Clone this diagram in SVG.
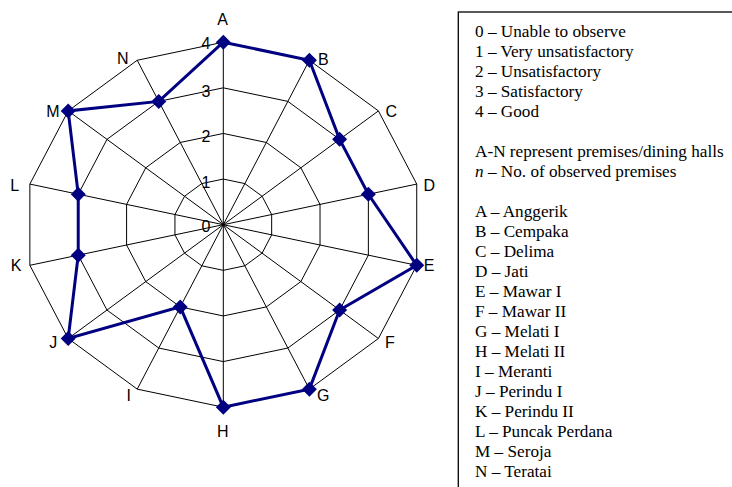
<svg xmlns="http://www.w3.org/2000/svg" width="732" height="487" viewBox="0 0 732 487">
<style>
.grid{fill:none;stroke:#000;stroke-width:1}
.spoke{stroke:#000;stroke-width:1}
.series{fill:none;stroke:#000080;stroke-width:3;stroke-linejoin:miter}
.mk{fill:#000080}
.ax{font-family:"Liberation Sans",Arial,sans-serif;font-size:16px;fill:#000;text-anchor:middle}
.sc{font-family:"Liberation Sans",Arial,sans-serif;font-size:16px;fill:#000;text-anchor:end}
.lg{font-family:"Liberation Serif","Times New Roman",serif;font-size:17.2px;fill:#000}
.box{fill:#fff;stroke:#000;stroke-width:1.3}
</style>
<defs>
<polygon id="dm" points="0,-7.5 7.5,0 0,7.5 -7.5,0"/>
</defs>
<rect width="732" height="487" fill="#fff"/>
<g id="radar" transform="translate(223.3,224.7)">
<g id="rings">
<polygon class="grid" points="0,-182.5 86.08,-164.43 155.11,-113.79 193.43,-40.61 193.43,40.61 155.11,113.79 86.08,164.43 0,182.5 -86.08,164.43 -155.11,113.79 -193.43,40.61 -193.43,-40.61 -155.11,-113.79 -86.08,-164.43"/>
<polygon class="grid" points="0,-136.88 64.56,-123.32 116.33,-85.34 145.07,-30.46 145.07,30.46 116.33,85.34 64.56,123.32 0,136.88 -64.56,123.32 -116.33,85.34 -145.07,30.46 -145.07,-30.46 -116.33,-85.34 -64.56,-123.32"/>
<polygon class="grid" points="0,-91.25 43.04,-82.22 77.56,-56.9 96.72,-20.31 96.72,20.31 77.56,56.9 43.04,82.22 0,91.25 -43.04,82.22 -77.56,56.9 -96.72,20.31 -96.72,-20.31 -77.56,-56.9 -43.04,-82.22"/>
<polygon class="grid" points="0,-45.63 21.52,-41.11 38.78,-28.45 48.36,-10.15 48.36,10.15 38.78,28.45 21.52,41.11 0,45.63 -21.52,41.11 -38.78,28.45 -48.36,10.15 -48.36,-10.15 -38.78,-28.45 -21.52,-41.11"/>
</g>
<g id="spokes">
<line class="spoke" x1="0" y1="0" x2="0" y2="-182.5"/>
<line class="spoke" x1="0" y1="0" x2="86.08" y2="-164.43"/>
<line class="spoke" x1="0" y1="0" x2="155.11" y2="-113.79"/>
<line class="spoke" x1="0" y1="0" x2="193.43" y2="-40.61"/>
<line class="spoke" x1="0" y1="0" x2="193.43" y2="40.61"/>
<line class="spoke" x1="0" y1="0" x2="155.11" y2="113.79"/>
<line class="spoke" x1="0" y1="0" x2="86.08" y2="164.43"/>
<line class="spoke" x1="0" y1="0" x2="0" y2="182.5"/>
<line class="spoke" x1="0" y1="0" x2="-86.08" y2="164.43"/>
<line class="spoke" x1="0" y1="0" x2="-155.11" y2="113.79"/>
<line class="spoke" x1="0" y1="0" x2="-193.43" y2="40.61"/>
<line class="spoke" x1="0" y1="0" x2="-193.43" y2="-40.61"/>
<line class="spoke" x1="0" y1="0" x2="-155.11" y2="-113.79"/>
<line class="spoke" x1="0" y1="0" x2="-86.08" y2="-164.43"/>
</g>
<g id="connectors">
<polygon class="series" points="0,-182.5 86.08,-164.43 116.33,-85.34 145.07,-30.46 193.43,40.61 116.33,85.34 86.08,164.43 0,182.5 -43.04,82.22 -155.11,113.79 -145.07,30.46 -145.07,-30.46 -155.11,-113.79 -64.56,-123.32"/>
</g>
<g id="point-A"><use href="#dm" class="mk" x="0" y="-182.5"/></g>
<g id="point-B"><use href="#dm" class="mk" x="86.08" y="-164.43"/></g>
<g id="point-C"><use href="#dm" class="mk" x="116.33" y="-85.34"/></g>
<g id="point-D"><use href="#dm" class="mk" x="145.07" y="-30.46"/></g>
<g id="point-E"><use href="#dm" class="mk" x="193.43" y="40.61"/></g>
<g id="point-F"><use href="#dm" class="mk" x="116.33" y="85.34"/></g>
<g id="point-G"><use href="#dm" class="mk" x="86.08" y="164.43"/></g>
<g id="point-H"><use href="#dm" class="mk" x="0" y="182.5"/></g>
<g id="point-I"><use href="#dm" class="mk" x="-43.04" y="82.22"/></g>
<g id="point-J"><use href="#dm" class="mk" x="-155.11" y="113.79"/></g>
<g id="point-K"><use href="#dm" class="mk" x="-145.07" y="30.46"/></g>
<g id="point-L"><use href="#dm" class="mk" x="-145.07" y="-30.46"/></g>
<g id="point-M"><use href="#dm" class="mk" x="-155.11" y="-113.79"/></g>
<g id="point-N"><use href="#dm" class="mk" x="-64.56" y="-123.32"/></g>
</g>
<g id="scale">
<text class="sc" x="210.5" y="48.5">4</text>
<text class="sc" x="210.5" y="96.5">3</text>
<text class="sc" x="210.5" y="141.7">2</text>
<text class="sc" x="210.5" y="187.7">1</text>
<text class="sc" x="210.5" y="231.7">0</text>
</g>
<g id="axis-labels">
<text class="ax" x="222.5" y="25">A</text>
<text class="ax" x="323.3" y="64.5">B</text>
<text class="ax" x="391.3" y="117.3">C</text>
<text class="ax" x="429.2" y="191">D</text>
<text class="ax" x="429.2" y="271">E</text>
<text class="ax" x="390" y="348">F</text>
<text class="ax" x="323.3" y="401">G</text>
<text class="ax" x="222.7" y="437">H</text>
<text class="ax" x="128.7" y="401">I</text>
<text class="ax" x="53.3" y="348">J</text>
<text class="ax" x="16.2" y="271">K</text>
<text class="ax" x="14.7" y="190.7">L</text>
<text class="ax" x="53" y="117.3">M</text>
<text class="ax" x="122.8" y="64">N</text>
</g>
<g id="legend">
<rect class="box" x="458.3" y="12" width="300" height="500"/>
<text class="lg" x="475" y="36.7">0 – Unable to observe</text>
<text class="lg" x="475" y="56.7">1 – Very unsatisfactory</text>
<text class="lg" x="475" y="76.7">2 – Unsatisfactory</text>
<text class="lg" x="475" y="96.7">3 – Satisfactory</text>
<text class="lg" x="475" y="116.7">4 – Good</text>
<text class="lg" x="475" y="156.7">A-N represent premises/dining halls</text>
<text class="lg" x="475" y="176.7"><tspan font-style="italic">n</tspan> – No. of observed premises</text>
<text class="lg" x="475" y="216.7">A – Anggerik</text>
<text class="lg" x="475" y="236.7">B – Cempaka</text>
<text class="lg" x="475" y="256.7">C – Delima</text>
<text class="lg" x="475" y="276.7">D – Jati</text>
<text class="lg" x="475" y="296.7">E – Mawar I</text>
<text class="lg" x="475" y="316.7">F – Mawar II</text>
<text class="lg" x="475" y="336.7">G – Melati I</text>
<text class="lg" x="475" y="356.7">H – Melati II</text>
<text class="lg" x="475" y="376.7">I – Meranti</text>
<text class="lg" x="475" y="396.7">J – Perindu I</text>
<text class="lg" x="475" y="416.7">K – Perindu II</text>
<text class="lg" x="475" y="436.7">L – Puncak Perdana</text>
<text class="lg" x="475" y="456.7">M – Seroja</text>
<text class="lg" x="475" y="476.7">N – Teratai</text>
</g>
</svg>
